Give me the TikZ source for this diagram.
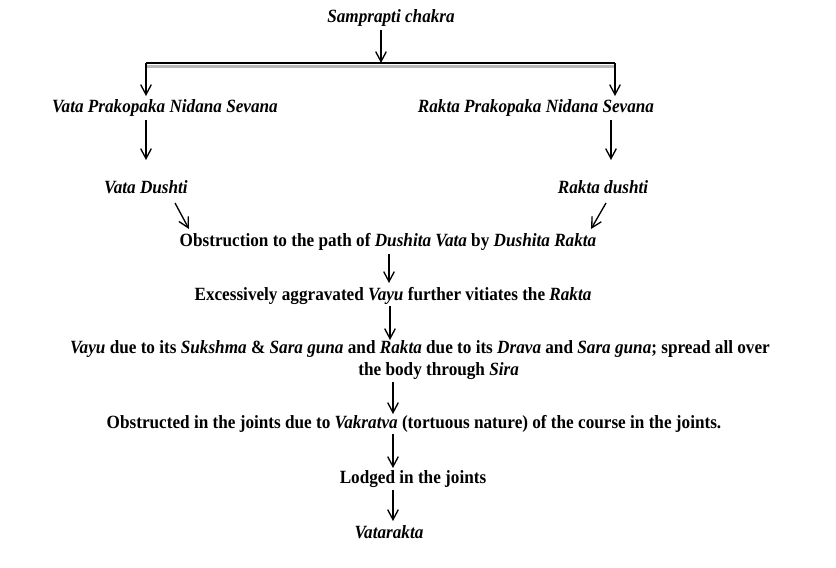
\documentclass[tikz,border=0pt]{standalone}
\usepackage{fontspec}
\setmainfont{Liberation Serif}[FakeStretch=0.92]
\usetikzlibrary{arrows.meta}
\begin{document}
\begin{tikzpicture}[x=0.75pt,y=-0.75pt,
  lbl/.style={font=\fontsize{14}{16}\selectfont\bfseries, inner sep=1pt, text=black},
  arr/.style={draw=black, line width=1pt, -{Straight Barb[length=7.5pt,width=8pt]}}]
\useasboundingbox (0,0) rectangle (836,568);
\node[lbl] (top) at (391,18) {\itshape Samprapti chakra};
\node[lbl] (vpn) at (165,108) {\itshape Vata Prakopaka Nidana Sevana};
\node[lbl] (rpn) at (536,108) {\itshape Rakta Prakopaka Nidana Sevana};
\node[lbl] (vd) at (146,187) {\itshape Vata Dushti};
\node[lbl] (rd) at (603,187) {\itshape Rakta dushti};
\node[lbl] (obs) at (388,242) {Obstruction to the path of \textit{Dushita Vata} by \textit{Dushita Rakta}};
\node[lbl] (exc) at (393,296) {Excessively aggravated \textit{Vayu} further vitiates the \textit{Rakta}};
\node[lbl, align=center] (vay) at (420,360) {\textit{Vayu} due to its \textit{Sukshma} \& \textit{Sara guna} and \textit{Rakta} due to its \textit{Drava} and \textit{Sara guna}; spread all over\\ \hspace*{28pt}the body through \textit{Sira}};
\node[lbl] (obd) at (414,424) {Obstructed in the joints due to \textit{Vakratva} (tortuous nature) of the course in the joints.};
\node[lbl] (lod) at (413,479) {Lodged in the joints};
\node[lbl] (vat) at (389,532) {\itshape Vatarakta};
% bar
\coordinate (bm) at (381,63);
\coordinate (bl) at (146,63);
\coordinate (br) at (615,63);
\draw[gray!55, line width=1.6pt] (146,66.5) -- (615,66.5);
\draw[black, line width=1pt] (bl) -- (br);
\draw[arr] (381,30) -- (bm);
\coordinate (bl2) at (146,96);
\coordinate (br2) at (615,96);
\draw[arr] (bl) -- (bl2);
\draw[arr] (br) -- (br2);
% second level
\draw[arr] (146,120) -- (146,160);
\draw[arr] (611,120) -- (611,160);
\coordinate (vda) at (175,203);
\coordinate (rda) at (606,203);
\draw[arr] (vda) -- (189,229);
\draw[arr] (rda) -- (591,229);
\draw[arr] (389,254) -- (389,283);
\draw[arr] (390,306) -- (390,340);
\draw[arr] (393,382) -- (393,414);
\draw[arr] (393,434) -- (393,468);
\draw[arr] (393,490) -- (393,521);
\end{tikzpicture}
\end{document}
